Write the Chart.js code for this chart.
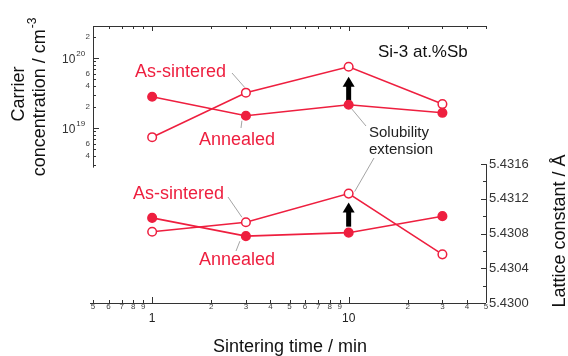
<!DOCTYPE html>
<html>
<head>
<meta charset="utf-8">
<script src="https://cdn.jsdelivr.net/npm/chart.js@4"></script>
<style>
body { margin: 0; background: #fff; }
#wrap { width: 568px; height: 356px; position: relative; }
</style>
</head>
<body>
<div id="wrap"><canvas id="chart"></canvas></div>
<script>
// sintering time (min)
const times = [1, 3, 10, 30];

// carrier concentration (cm^-3)
const concAsSintered = [7.4e18, 3.2e19, 7.5e19, 2.2e19];
const concAnnealed = [2.8e19, 1.5e19, 2.15e19, 1.65e19];

// lattice constant (A)
const latAsSintered = [5.43082, 5.43093, 5.43126, 5.43056];
const latAnnealed = [5.43098, 5.43077, 5.43081, 5.43100];

// tick values
const timeTicks = [0.5, 0.6, 0.7, 0.8, 0.9, 1, 2, 3, 4, 5, 6, 7, 8, 9, 10, 20, 30, 40, 50];
const concTicks = [3e18, 4e18, 5e18, 6e18, 7e18, 8e18, 9e18, 1e19, 2e19, 3e19, 4e19, 5e19, 6e19, 7e19, 8e19, 9e19, 1e20, 2e20];
const latticeTicks = [5.4300, 5.4302, 5.4304, 5.4306, 5.4308, 5.4310, 5.4312, 5.4314, 5.4316];

const RED = '#ee1f3f';
const FONT = "'Liberation Sans', Arial, Helvetica, sans-serif";
Chart.defaults.font.family = FONT;

function sig(v) {
    return Math.round(v / Math.pow(10, Math.floor(Math.log10(v) + 1e-9)));
}
function isDecade(v) { return sig(v) === 1; }
function latMajor(v) { return Math.round(v * 10000) % 4 === 0; }

function label(ctx, s, x, y, size, color, align) {
    ctx.font = size + 'px ' + FONT;
    ctx.fillStyle = color;
    ctx.textAlign = align || 'left';
    ctx.textBaseline = 'middle';
    ctx.fillText(s, x, y);
}

function line(ctx, x1, y1, x2, y2) {
    ctx.beginPath();
    ctx.moveTo(x1, y1);
    ctx.lineTo(x2, y2);
    ctx.stroke();
}

function arrowUp(ctx, x, yBase, yTip) {
    ctx.fillStyle = '#000';
    ctx.fillRect(x - 2.5, yTip + 8, 5, yBase - yTip - 8);
    ctx.beginPath();
    ctx.moveTo(x, yTip);
    ctx.lineTo(x - 6, yTip + 10);
    ctx.lineTo(x + 6, yTip + 10);
    ctx.closePath();
    ctx.fill();
}

const decorations = {
    id: 'decorations',
    beforeDatasetsDraw(chart) {
        const ctx = chart.ctx;
        const {x, y, y2} = chart.scales;
        ctx.save();
        ctx.strokeStyle = '#9a9a9a';
        ctx.lineWidth = 0.9;
        // leaders, top panel
        line(ctx, 232, 73, x.getPixelForValue(times[1]) - 1, y.getPixelForValue(concAsSintered[1]) - 5);
        line(ctx, x.getPixelForValue(times[1]) - 4, y.getPixelForValue(concAnnealed[1]) + 5, 241, 128);
        line(ctx, x.getPixelForValue(times[2]) + 3, y.getPixelForValue(concAnnealed[2]) + 4, 366, 126);
        // leaders, bottom panel
        line(ctx, 374, 158, x.getPixelForValue(times[2]) + 6, y2.getPixelForValue(latAsSintered[2]) - 2);
        line(ctx, 228, 197, x.getPixelForValue(times[1]) - 4, y2.getPixelForValue(latAsSintered[1]) - 5);
        line(ctx, x.getPixelForValue(times[1]) - 6, y2.getPixelForValue(latAnnealed[1]) + 5, 236, 251);

        // solubility arrows
        const ax = x.getPixelForValue(times[2]);
        arrowUp(ctx, ax, y.getPixelForValue(concAnnealed[2]) - 3, y.getPixelForValue(concAsSintered[2]) + 10);
        arrowUp(ctx, ax, y2.getPixelForValue(latAnnealed[2]) - 6, y2.getPixelForValue(latAsSintered[2]) + 9);
        ctx.restore();
    },
    afterDraw(chart) {
        const ctx = chart.ctx;
        const {x, y, y2} = chart.scales;
        const area = chart.chartArea;
        ctx.save();
        ctx.strokeStyle = '#333';
        ctx.lineWidth = 1;

        // top frame of upper panel
        line(ctx, area.left, area.top + 0.5, area.right, area.top + 0.5);
        timeTicks.forEach(v => {
            const px = Math.round(x.getPixelForValue(v)) + 0.5;
            line(ctx, px, area.top, px, area.top + (isDecade(v) ? 5 : 3));
        });

        // bottom time axis
        line(ctx, area.left - 3, area.bottom + 0.5, area.right, area.bottom + 0.5);
        timeTicks.forEach(v => {
            const px = Math.round(x.getPixelForValue(v)) + 0.5;
            line(ctx, px, area.bottom, px, area.bottom - (isDecade(v) ? 6 : 3));
        });

        // left carrier axis
        const yLow = y.getPixelForValue(concTicks[0]) + 3;
        line(ctx, area.left + 0.5, area.top, area.left + 0.5, yLow);
        concTicks.forEach(v => {
            const py = Math.round(y.getPixelForValue(v)) + 0.5;
            line(ctx, area.left, py, area.left + (isDecade(v) ? 6 : 3), py);
            if (isDecade(v)) {
                ctx.font = '12px ' + FONT;
                const w = ctx.measureText('10').width;
                label(ctx, '10', 62, py + 1, 12, '#333');
                label(ctx, String(Math.round(Math.log10(v))), 62 + w + 1, py - 5, 8, '#333');
            }
        });

        // right lattice axis
        const yHigh = y2.getPixelForValue(latticeTicks[latticeTicks.length - 1]);
        line(ctx, area.right + 0.5, yHigh, area.right + 0.5, area.bottom);
        latticeTicks.forEach(v => {
            const py = Math.round(y2.getPixelForValue(v)) + 0.5;
            line(ctx, area.right, py, area.right - (latMajor(v) ? 5 : 3), py);
        });

        // axis titles
        label(ctx, 'Sintering time / min', 290, 347, 18, '#111', 'center');

        ctx.save();
        ctx.translate(19, 94);
        ctx.rotate(-Math.PI / 2);
        label(ctx, 'Carrier', 0, 0, 18, '#111', 'center');
        ctx.restore();

        ctx.save();
        ctx.translate(40, 97);
        ctx.rotate(-Math.PI / 2);
        ctx.font = '18px ' + FONT;
        const main = 'concentration / cm';
        const wm = ctx.measureText(main).width;
        ctx.font = '12px ' + FONT;
        const ws = ctx.measureText('-3').width;
        const x0 = -(wm + ws + 1) / 2;
        label(ctx, main, x0, 0, 18, '#111');
        label(ctx, '-3', x0 + wm + 1, -7, 12, '#111');
        ctx.restore();

        ctx.save();
        ctx.translate(560, 231);
        ctx.rotate(-Math.PI / 2);
        label(ctx, 'Lattice constant / \u00c5', 0, 0, 18, '#111', 'center');
        ctx.restore();

        // annotations
        label(ctx, 'Si-3 at.%Sb', 378, 52, 17, '#111');
        label(ctx, 'As-sintered', 135, 72, 18, RED);
        label(ctx, 'Annealed', 199, 140, 18, RED);
        label(ctx, 'Solubility', 369, 133, 15, '#222');
        label(ctx, 'extension', 369, 150, 15, '#222');
        label(ctx, 'As-sintered', 133, 194, 18, RED);
        label(ctx, 'Annealed', 199, 260, 18, RED);
        ctx.restore();
    }
};

function pts(vals) {
    return times.map((t, i) => ({x: t, y: vals[i]}));
}

function series(name, vals, axis, filled) {
    return {
        label: name,
        data: pts(vals),
        yAxisID: axis,
        borderColor: RED,
        borderWidth: 1.6,
        pointRadius: 4.3,
        pointBorderWidth: 1.5,
        pointBorderColor: RED,
        pointBackgroundColor: filled ? RED : '#fff',
        fill: false,
        tension: 0
    };
}

const noGrid = { display: false, drawTicks: false };

new Chart(document.getElementById('chart'), {
    type: 'line',
    data: {
        datasets: [
            series('As-sintered', concAsSintered, 'y', false),
            series('Annealed', concAnnealed, 'y', true),
            series('As-sintered', latAsSintered, 'y2', false),
            series('Annealed', latAnnealed, 'y2', true)
        ]
    },
    options: {
        responsive: true,
        maintainAspectRatio: false,
        animation: false,
        layout: { padding: { top: 26, left: 0, right: 0, bottom: 0 } },
        plugins: {
            legend: { display: false },
            tooltip: { enabled: false }
        },
        scales: {
            x: {
                type: 'logarithmic',
                position: 'bottom',
                weight: 0,
                min: 0.5,
                max: 50,
                afterBuildTicks: s => { s.ticks = timeTicks.map(v => ({value: v})); },
                afterFit: s => { s.height = 10; },
                grid: noGrid,
                border: { display: false },
                ticks: {
                    autoSkip: false,
                    maxRotation: 0,
                    padding: -1,
                    color: '#444',
                    font: { size: 8 },
                    callback: v => isDecade(v) ? '' : String(sig(v))
                }
            },
            xMajor: {
                type: 'logarithmic',
                axis: 'x',
                position: 'bottom',
                weight: 1,
                min: 0.5,
                max: 50,
                afterBuildTicks: s => { s.ticks = timeTicks.filter(isDecade).map(v => ({value: v})); },
                afterFit: s => { s.height = 43; },
                grid: noGrid,
                border: { display: false },
                ticks: {
                    autoSkip: false,
                    maxRotation: 0,
                    padding: -2,
                    color: '#222',
                    font: { size: 12 },
                    callback: v => String(v)
                }
            },
            y: {
                type: 'logarithmic',
                position: 'left',
                min: Math.pow(10, 16.5),
                max: 2.87e20,
                afterBuildTicks: s => { s.ticks = concTicks.map(v => ({value: v})); },
                afterFit: s => { s.width = 93; },
                grid: noGrid,
                border: { display: false },
                ticks: {
                    autoSkip: false,
                    padding: 3,
                    color: '#444',
                    font: { size: 8 },
                    callback: v => [2, 4, 6].includes(sig(v)) ? String(sig(v)) : ''
                }
            },
            y2: {
                type: 'linear',
                position: 'right',
                min: 5.4300,
                max: 5.43319,
                afterBuildTicks: s => { s.ticks = latticeTicks.map(v => ({value: v})); },
                afterFit: s => { s.width = 82; },
                grid: noGrid,
                border: { display: false },
                ticks: {
                    autoSkip: false,
                    padding: 3,
                    color: '#333',
                    font: { size: 13 },
                    callback: v => latMajor(v) ? v.toFixed(4) : ''
                }
            }
        }
    },
    plugins: [decorations]
});
</script>
</body>
</html>
